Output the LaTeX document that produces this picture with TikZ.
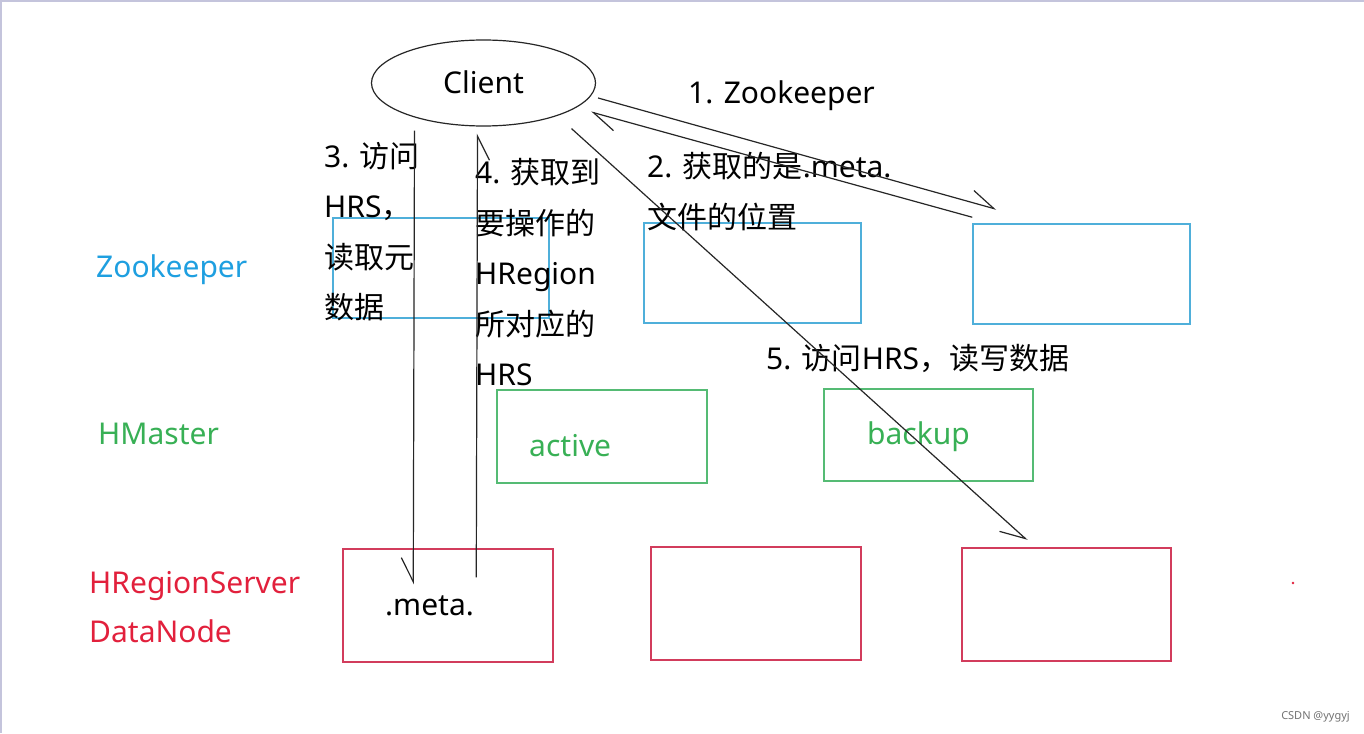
\documentclass[tikz,border=0pt]{standalone}
\usepackage{fontspec}
\setmainfont{Noto Sans}
\newfontfamily\cjk{Noto Sans CJK SC}
\usetikzlibrary{arrows.meta,calc,shapes.geometric}
\definecolor{zktext}{HTML}{1E9FE0}
\definecolor{zkbox}{HTML}{4FAFDA}
\definecolor{hmtext}{HTML}{38B055}
\definecolor{hmbox}{HTML}{55BB74}
\definecolor{rstext}{HTML}{E2203C}
\definecolor{rsbox}{HTML}{D23C5C}
\definecolor{frame}{HTML}{C4C4DC}
\begin{document}
\begin{tikzpicture}[x=1pt,y=-1pt,
  txt/.style={font=\fontsize{30}{50.5}\selectfont, inner sep=0pt, anchor=west, align=left, yshift=-3pt},
  zkb/.style={draw=zkbox, line width=1.5pt, rectangle, inner sep=0pt},
  hmb/.style={draw=hmbox, line width=1.5pt, rectangle, inner sep=0pt},
  rsb/.style={draw=rsbox, line width=1.5pt, rectangle, inner sep=0pt},
  conn/.style={draw=black!85, line width=1.2pt, -{Straight Barb[harpoon,length=24pt,width=24pt]}},
  connsw/.style={draw=black!85, line width=1.2pt, -{Straight Barb[harpoon,swap,length=24pt,width=24pt]}}]
\useasboundingbox (0,0) rectangle (1364,733);
\fill[white] (0,0) rectangle (1364,733);
\draw[frame, line width=2pt] (0,1) -- (1364,1);
\draw[frame, line width=1.5pt] (0.75,0) -- (0.75,733);

% boxes
\node[zkb, minimum width=216pt, minimum height=100pt] (zk1) at (441,268) {};
\node[zkb, minimum width=217pt, minimum height=100pt] (zk2) at (752.5,273) {};
\node[zkb, minimum width=217pt, minimum height=100pt] (zk3) at (1081.5,274) {};
\node[hmb, minimum width=210pt, minimum height=93pt] (hm1) at (602,436.5) {};
\node[hmb, minimum width=209pt, minimum height=92pt] (hm2) at (928.5,435) {};
\node[rsb, minimum width=210pt, minimum height=113pt] (rs1) at (448,605.5) {};
\node[rsb, minimum width=210pt, minimum height=113pt] (rs2) at (756,603.5) {};
\node[rsb, minimum width=209pt, minimum height=113pt] (rs3) at (1066.5,604.5) {};

% client
\node[draw=black!85, line width=1.2pt, ellipse, minimum width=224pt, minimum height=86pt, inner sep=0pt,
  font=\fontsize{30}{35}\selectfont] (client) at (483.5,83) {\raisebox{1pt}{Client}\hspace{10pt}};

% layer labels
\node[txt, text=zktext] (lzk) at (96,267) {Zookeeper};
\node[txt, text=hmtext] (lhm) at (98,431) {HMaster};
\node[txt, text=rstext] (lrs) at (89,583) {HRegionServer};
\node[txt, text=rstext] (ldn) at (89,628) {DataNode};

% box texts
\node[txt, text=hmtext] (tactive) at (529,443) {active};
\node[txt, text=hmtext] (tbackup) at (867,434) {backup};
\node[txt] (tmeta) at (385,603) {.meta.};

% step labels
\node[txt] (s1) at (688,93) {1. Zookeeper};
\node[txt, anchor=north west] (s2) at (647,149) {2. {\cjk 获取的是}.meta.\\{\cjk 文件的位置}};
\node[txt, anchor=north west] (s3) at (324,139) {3. {\cjk 访问}\\HRS{\cjk ，}\\{\cjk 读取元}\\{\cjk 数据}};
\node[txt, anchor=north west] (s4) at (475,155.5) {4. {\cjk 获取到}\\{\cjk 要操作的}\\HRegion\\{\cjk 所对应的}\\HRS};
\node[txt] (s5) at (766,355) {5. {\cjk 访问}HRS{\cjk ，读写数据}};

% connectors
\draw[conn] ($(client.east)+(2,15)$) -- ($(zk3.north west)+(24,-14)$);
\draw[conn] ($(zk3.north west)+(0,-6)$) -- ($(client.east)+(-5,29)$);
\draw[connsw] ($(client.south)+(-69,4)$) -- ($(rs1.north west)+(71,36)$);
\draw[connsw] ($(rs1.north west)+(134,29)$) -- ($(client.south)+(-6,7)$);
\draw[connsw] ($(client.south)+(88,2)$) -- ($(rs3.north west)+(66,-7)$);

% misc
\fill[rstext] (1293,583) circle (1.3pt);
\node[font=\fontsize{11}{12}\selectfont, text=black!55, inner sep=0pt, anchor=east] (wm) at (1350,717) {CSDN @yygyj};
\end{tikzpicture}
\end{document}
